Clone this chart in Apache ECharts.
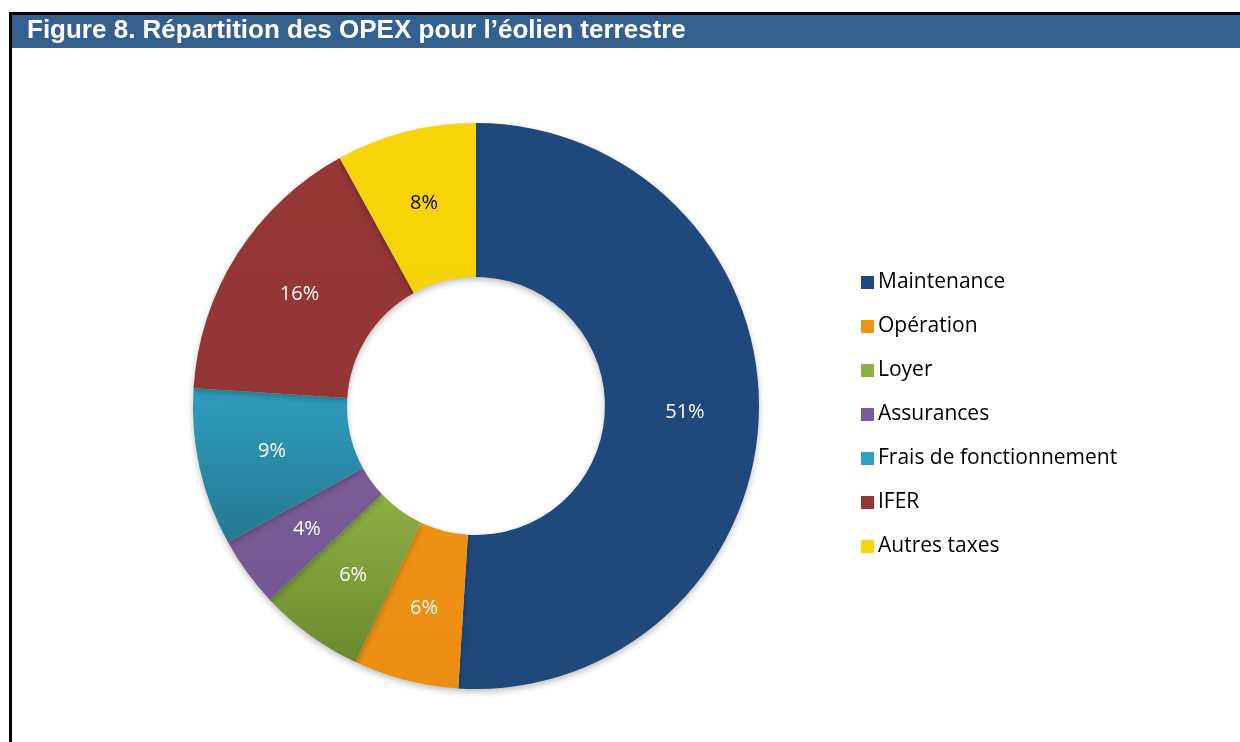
<!DOCTYPE html>
<html>
<head>
<meta charset="utf-8">
<script src="https://cdn.jsdelivr.net/npm/echarts@6/dist/echarts.min.js"></script>
<style>
  html, body { margin: 0; padding: 0; background: #fff; }
  #chart { width: 1240px; height: 742px; }
</style>
</head>
<body>
<div id="chart"></div>
<script>
const categories = ['Maintenance', 'Opération', 'Loyer', 'Assurances', 'Frais de fonctionnement', 'IFER', 'Autres taxes'];
const shares = [51, 6, 6, 4, 9, 16, 8];
// top / bottom colours of each slice (Excel-like soft gradient)
const topColors = ['#1f497d', '#ee9115', '#8db043', '#7a5c98', '#2f9ec0', '#953735', '#f8d508'];
const bottomColors = ['#1f487b', '#ec8e12', '#6b8a2f', '#755793', '#23788f', '#923534', '#f6d306'];

const chart = echarts.init(document.getElementById('chart'));

const pieData = categories.map((name, i) => ({
  name: name,
  value: shares[i],
  itemStyle: {
    color: new echarts.graphic.LinearGradient(0, 0, 0, 1, [
      { offset: 0, color: topColors[i] },
      { offset: 1, color: bottomColors[i] }
    ])
  },
  label: { color: name === 'Autres taxes' ? '#000' : '#fff' }
}));

chart.setOption({
  animation: false,
  graphic: [
    { type: 'rect', shape: { x: 9, y: 12, width: 1231, height: 3 }, style: { fill: '#000' } },
    { type: 'rect', shape: { x: 9, y: 12, width: 3, height: 730 }, style: { fill: '#000' } },
    { type: 'rect', shape: { x: 12, y: 15, width: 1228, height: 33 }, style: { fill: '#34608f' } }
  ],
  title: {
    text: 'Figure 8. Répartition des OPEX pour l’éolien terrestre',
    left: 22,
    top: 13,
    textStyle: {
      color: '#fff',
      fontFamily: 'Liberation Sans, Arial',
      fontWeight: 'bold',
      fontSize: 26
    }
  },
  legend: {
    orient: 'vertical',
    left: 856,
    top: 267,
    itemWidth: 13,
    itemHeight: 13,
    itemGap: 23,
    icon: 'rect',
    data: categories.map((name, i) => ({ name: name, itemStyle: { color: topColors[i] } })),
    textStyle: { fontFamily: 'Open Sans, sans-serif', fontSize: 21, color: '#000', padding: [0, 0, 0, -1] }
  },
  series: [{
    type: 'pie',
    center: [476, 406],
    radius: [129, 283],
    startAngle: 90,
    clockwise: true,
    data: pieData,
    itemStyle: {
      shadowBlur: 6,
      shadowOffsetY: 3,
      shadowColor: 'rgba(0,0,0,0.25)'
    },
    label: {
      show: true,
      position: 'inside',
      formatter: '{c}%',
      fontFamily: 'Open Sans, sans-serif',
      fontSize: 20
    },
    labelLine: { show: false },
    emphasis: { disabled: true }
  }]
});
</script>
</body>
</html>
